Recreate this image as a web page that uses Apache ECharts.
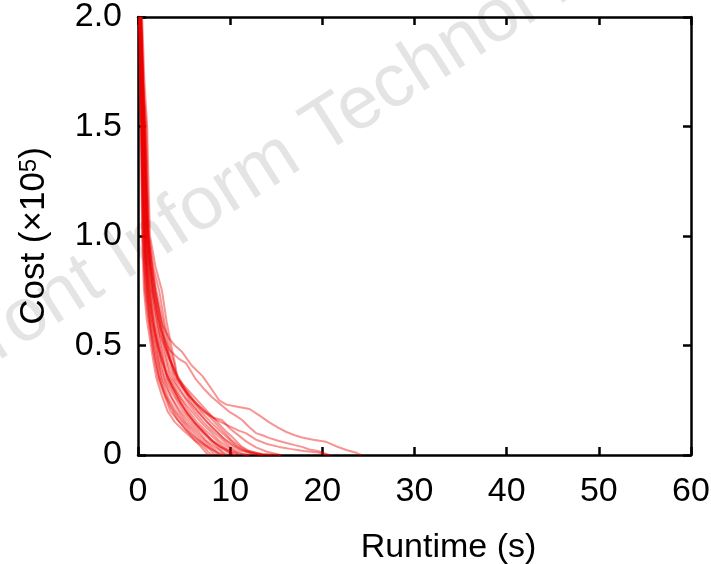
<!DOCTYPE html>
<html>
<head>
<meta charset="utf-8">
<script src="https://cdn.jsdelivr.net/npm/echarts@6/dist/echarts.min.js"></script>
<style>
html,body{margin:0;padding:0;background:#fff;overflow:hidden;}
#chart{width:711px;height:564px;}
</style>
</head>
<body>
<div id="chart"></div>
<script>
// Tick values
const xTicks = [0, 10, 20, 30, 40, 50, 60];
const yTicks = [0, 0.5, 1.0, 1.5, 2.0];
const xAxisTitle = 'Runtime (s)';
const yAxisTitle = 'Cost (×10{sup|5})';
const watermark = 'Front Inform Technol Electron Eng';

// Runs: [runtime (s), cost (x10^5)]
const run01 = [[0.10,2.0],[0.22,1.62],[0.30,1.5],[0.38,1.22],[0.45,1.0],[0.55,0.86],[0.65,0.75],[0.95,0.62],[1.4,0.50],[1.7,0.42],[2.0,0.35],[2.6,0.27],[3.2,0.20],[4.0,0.15],[5.0,0.11],[5.8,0.08],[6.8,0.04],[7.2,0.02],[7.6,0]];
const run02 = [[0.12,2.0],[0.25,1.7],[0.35,1.5],[0.42,1.24],[0.50,1.0],[0.62,0.88],[0.75,0.75],[1.1,0.63],[1.55,0.5],[1.9,0.41],[2.2,0.35],[2.8,0.28],[3.5,0.20],[4.3,0.16],[5.3,0.11],[6.1,0.07],[7.1,0.04],[7.6,0.015],[8.0,0]];
const run03 = [[0.15,2.0],[0.26,1.68],[0.35,1.5],[0.46,1.2],[0.55,1.0],[0.7,0.85],[0.85,0.75],[1.2,0.61],[1.7,0.5],[2.0,0.43],[2.3,0.35],[3.0,0.27],[3.9,0.20],[4.6,0.16],[5.6,0.11],[6.4,0.075],[7.4,0.04],[7.9,0.02],[8.3,0]];
const run04 = [[0.15,2.0],[0.3,1.65],[0.40,1.5],[0.5,1.2],[0.60,1.0],[0.75,0.84],[0.90,0.75],[1.3,0.62],[1.8,0.5],[2.2,0.42],[2.5,0.35],[3.3,0.26],[4.1,0.20],[5.0,0.15],[5.9,0.11],[6.8,0.07],[7.6,0.04],[8.2,0.02],[8.7,0]];
const run05 = [[0.18,2.0],[0.32,1.66],[0.45,1.5],[0.55,1.22],[0.65,1.0],[0.82,0.86],[1.00,0.75],[1.45,0.6],[1.95,0.5],[2.3,0.41],[2.6,0.35],[3.5,0.27],[4.4,0.20],[5.2,0.15],[6.2,0.11],[7.0,0.075],[7.9,0.04],[8.5,0.018],[9.0,0]];
const run06 = [[0.2,2.0],[0.33,1.7],[0.45,1.5],[0.58,1.2],[0.70,1.0],[0.9,0.85],[1.10,0.75],[1.55,0.61],[2.05,0.5],[2.5,0.40],[2.8,0.35],[3.7,0.26],[4.6,0.20],[5.5,0.15],[6.5,0.11],[7.3,0.07],[8.2,0.04],[8.9,0.02],[9.4,0]];
const run07 = [[0.2,2.0],[0.36,1.68],[0.50,1.5],[0.62,1.22],[0.75,1.0],[0.95,0.86],[1.20,0.75],[1.7,0.6],[2.2,0.5],[2.6,0.41],[2.9,0.35],[3.9,0.27],[4.9,0.20],[5.8,0.15],[6.8,0.11],[7.6,0.075],[8.5,0.04],[9.2,0.015],[9.7,0]];
const run08 = [[0.22,2.0],[0.4,1.66],[0.55,1.5],[0.68,1.2],[0.80,1.0],[1.05,0.85],[1.30,0.75],[1.8,0.6],[2.3,0.5],[2.8,0.42],[3.1,0.35],[4.2,0.26],[5.2,0.20],[6.1,0.15],[7.1,0.11],[7.9,0.07],[8.8,0.04],[9.5,0.02],[10.1,0]];
const run09 = [[0.25,2.0],[0.42,1.7],[0.60,1.5],[0.72,1.22],[0.85,1.0],[1.1,0.86],[1.40,0.75],[1.95,0.61],[2.45,0.5],[2.9,0.41],[3.2,0.35],[4.4,0.27],[5.5,0.20],[6.4,0.15],[7.4,0.11],[8.3,0.075],[9.2,0.04],[9.9,0.018],[10.5,0]];
const run10 = [[0.25,2.0],[0.45,1.68],[0.65,1.5],[0.78,1.2],[0.90,1.0],[1.2,0.85],[1.55,0.75],[2.1,0.6],[2.6,0.5],[3.1,0.42],[3.4,0.35],[4.7,0.26],[5.8,0.20],[6.8,0.15],[7.8,0.11],[8.7,0.07],[9.6,0.04],[10.3,0.02],[11.0,0]];
const run11 = [[0.28,2.0],[0.5,1.66],[0.70,1.5],[0.82,1.22],[0.95,1.0],[1.3,0.86],[1.70,0.75],[2.3,0.61],[2.8,0.5],[3.3,0.41],[3.6,0.35],[4.9,0.27],[6.1,0.20],[7.1,0.15],[8.1,0.11],[9.0,0.075],[9.9,0.04],[10.7,0.018],[11.4,0.005],[12.2,0]];
const run12 = [[0.30,2.0],[0.52,1.7],[0.75,1.5],[0.9,1.2],[1.05,1.0],[1.4,0.85],[1.85,0.75],[2.5,0.6],[3.0,0.5],[3.5,0.42],[3.8,0.35],[5.2,0.26],[6.4,0.20],[7.5,0.15],[8.5,0.11],[9.4,0.07],[10.3,0.04],[11.1,0.02],[12.5,0.006],[14.5,0]];
const run13 = [[0.33,2.0],[0.56,1.68],[0.80,1.5],[0.95,1.22],[1.10,1.0],[1.5,0.86],[2.00,0.75],[2.7,0.61],[3.2,0.5],[3.7,0.41],[4.0,0.35],[5.5,0.27],[6.8,0.20],[7.9,0.15],[8.9,0.11],[9.8,0.075],[10.7,0.04],[11.5,0.02],[12.4,0.008],[13.2,0]];
const run14 = [[0.38,2.0],[0.62,1.66],[0.90,1.5],[1.05,1.2],[1.20,1.0],[1.7,0.85],[2.30,0.75],[2.9,0.6],[3.4,0.5],[3.9,0.42],[4.2,0.35],[5.8,0.26],[7.2,0.20],[8.3,0.15],[9.2,0.11],[10.1,0.07],[11.0,0.04],[11.8,0.02],[13.5,0.005],[15.5,0]];
const run15 = [[0.45,2.0],[0.7,1.7],[1.00,1.5],[1.15,1.22],[1.30,1.0],[1.9,0.86],[2.60,0.75],[3.1,0.61],[3.6,0.5],[4.0,0.42],[4.3,0.35],[6.0,0.27],[7.5,0.20],[8.6,0.15],[9.5,0.11],[10.4,0.075],[11.2,0.04],[12.0,0.02],[12.9,0.008],[13.5,0]];
const run16 = [[0.3,2.0],[0.7,1.5],[1.1,1.0],[1.8,0.75],[2.6,0.6],[3.4,0.53],[4.0,0.5],[4.8,0.47],[5.8,0.41],[7.0,0.36],[8.0,0.30],[8.8,0.25],[9.6,0.23],[10.8,0.22],[12.1,0.21],[13.2,0.18],[14.2,0.15],[15.2,0.125],[16.1,0.105],[17.0,0.09],[17.8,0.08],[19.0,0.07],[20.4,0.06],[21.5,0.04],[22.6,0.023],[23.7,0.01],[24.2,0]];
const run17 = [[0.28,2.0],[0.65,1.5],[1.0,1.0],[1.6,0.75],[2.5,0.57],[3.4,0.48],[4.4,0.44],[5.2,0.42],[6.2,0.35],[7.2,0.30],[8.0,0.265],[9.0,0.23],[9.9,0.197],[10.6,0.18],[11.3,0.16],[12.0,0.13],[12.8,0.10],[13.5,0.09],[14.2,0.078],[15.2,0.065],[16.1,0.055],[17.0,0.045],[17.8,0.037],[18.6,0.025],[19.5,0.018],[20.2,0.008],[20.8,0]];
const run18 = [[0.25,2.0],[0.6,1.5],[0.95,1.0],[1.5,0.75],[2.4,0.55],[3.3,0.45],[4.2,0.37],[5.0,0.31],[6.2,0.24],[7.3,0.20],[8.5,0.16],[10.0,0.13],[11.0,0.11],[11.7,0.10],[12.8,0.07],[14.0,0.05],[15.3,0.037],[16.5,0.028],[18.0,0.018],[19.7,0.01],[20.5,0]];
const run19 = [[0.35,2.0],[0.75,1.5],[1.15,1.0],[1.9,0.75],[2.9,0.52],[4.0,0.37],[5.5,0.27],[7.0,0.20],[8.2,0.17],[9.1,0.16],[10.0,0.12],[10.6,0.10],[11.8,0.06],[12.8,0.035],[14.0,0.015],[15.0,0.005],[15.5,0]];
const run20 = [[0.2,2.0],[0.4,1.55],[0.6,1.15],[0.8,0.92],[1.1,0.75],[1.5,0.62],[2.0,0.52],[2.6,0.43],[3.2,0.36],[3.9,0.30],[4.6,0.24],[5.4,0.19],[6.3,0.14],[7.2,0.10],[8.2,0.06],[9.0,0.035],[9.8,0.015],[10.6,0]];
const run21 = [[0.15,2.0],[0.3,1.6],[0.45,1.3],[0.6,1.08],[0.8,0.9],[1.05,0.72],[1.35,0.58],[1.7,0.47],[2.2,0.37],[2.8,0.29],[3.5,0.22],[4.3,0.16],[5.1,0.12],[6.0,0.085],[6.9,0.055],[7.8,0.03],[8.6,0.012],[9.3,0]];
const run22 = [[0.3,2.0],[0.55,1.6],[0.8,1.25],[1.0,1.05],[1.3,0.88],[1.7,0.74],[2.2,0.62],[2.8,0.52],[3.4,0.44],[4.0,0.38],[4.8,0.31],[5.6,0.25],[6.5,0.20],[7.4,0.155],[8.3,0.115],[9.2,0.08],[10.2,0.05],[11.2,0.025],[12.3,0.01],[13.6,0]];
const run23 = [[0.22,2.0],[0.45,1.58],[0.62,1.28],[0.85,1.0],[1.15,0.8],[1.5,0.66],[1.9,0.55],[2.4,0.46],[3.0,0.38],[3.7,0.31],[4.5,0.25],[5.3,0.19],[6.2,0.145],[7.1,0.105],[8.0,0.07],[8.9,0.04],[9.9,0.02],[11.0,0.006],[12.0,0]];

const runs = [run01,run02,run03,run04,run05,run06,run07,run08,run09,run10,run11,run12,
  run13,run14,run15,run16,run17,run18,run19,run20,run21,run22,run23];

const FONT = '"Liberation Sans", Arial, sans-serif';
const chart = echarts.init(document.getElementById('chart'), null, {renderer: 'canvas'});

const axisLineStyle = {show: true, onZero: false, lineStyle: {color: '#000', width: 2.5}};
const tickStyle = {show: true, inside: true, length: 8, lineStyle: {color: '#000', width: 2.5}};

chart.setOption({
  animation: false,
  backgroundColor: '#fff',
  graphic: [{
    type: 'text',
    x: -32, y: 400,
    rotation: 32.4 * Math.PI / 180,
    z: -10,
    silent: true,
    style: {text: watermark, font: '75px ' + FONT, fill: '#e4e4e4', textVerticalAlign: 'bottom'}
  }],
  grid: {left: 138, right: 20, top: 17, bottom: 109, containLabel: false, outerBoundsMode: 'none'},
  xAxis: [{
    type: 'value', min: xTicks[0], max: xTicks[xTicks.length - 1], interval: 10,
    position: 'bottom',
    axisLine: axisLineStyle, axisTick: tickStyle, splitLine: {show: false},
    axisLabel: {fontSize: 34, color: '#000', fontFamily: FONT, margin: 20},
    name: xAxisTitle, nameLocation: 'middle', nameGap: 76,
    nameTextStyle: {fontSize: 34, color: '#000', fontFamily: FONT, padding: [0, 0, 0, 68]}
  }, {
    type: 'value', min: xTicks[0], max: xTicks[xTicks.length - 1], interval: 10,
    position: 'top',
    axisLine: axisLineStyle, axisTick: tickStyle, splitLine: {show: false},
    axisLabel: {show: false}
  }],
  yAxis: [{
    type: 'value', min: yTicks[0], max: yTicks[yTicks.length - 1], interval: 0.5,
    position: 'left',
    axisLine: axisLineStyle, axisTick: tickStyle, splitLine: {show: false},
    axisLabel: {fontSize: 34, color: '#000', fontFamily: FONT, margin: 16,
      formatter: v => v === 0 ? '0' : v.toFixed(1)},
    name: yAxisTitle, nameLocation: 'middle', nameGap: 86, nameRotate: 90,
    nameTextStyle: {fontSize: 35, color: '#000', fontFamily: FONT,
      rich: {sup: {fontSize: 24, color: '#000', fontFamily: FONT, verticalAlign: 'top', lineHeight: 24}}}
  }, {
    type: 'value', min: yTicks[0], max: yTicks[yTicks.length - 1], interval: 0.5,
    position: 'right',
    axisLine: axisLineStyle, axisTick: tickStyle, splitLine: {show: false},
    axisLabel: {show: false}
  }],
  series: runs.map((r, i) => ({
    type: 'line',
    name: 'run' + (i + 1),
    data: r,
    xAxisIndex: 0, yAxisIndex: 0,
    showSymbol: false,
    symbol: 'none',
    clip: true,
    lineStyle: {color: 'rgba(235,0,0,0.42)', width: 2},
    z: 2
  }))
});
</script>
</body>
</html>
